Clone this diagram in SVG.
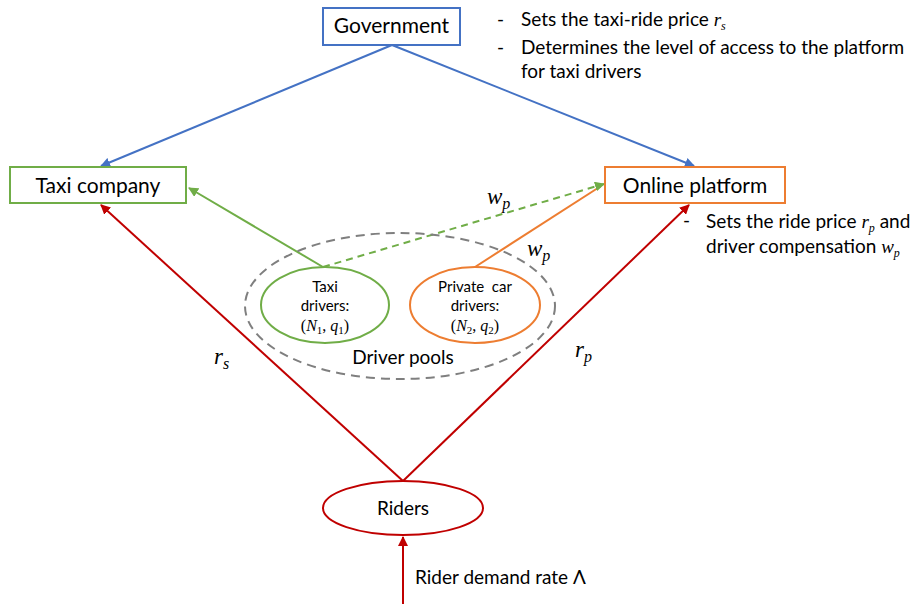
<svg xmlns="http://www.w3.org/2000/svg" width="917" height="604" viewBox="0 0 917 604">
<style>
.t{font-family:Lato,"Open Sans","Liberation Sans",sans-serif;fill:#000}
.m{font-family:"Liberation Serif","DejaVu Serif",serif;font-style:italic;fill:#000}
.box{fill:#fff;stroke-width:2}
.ln{fill:none;stroke-width:2}
</style>
<defs>
<marker id="aB" viewBox="0 0 10 10" refX="9" refY="5" markerWidth="5" markerHeight="5" orient="auto"><path d="M0,0L10,5L0,10z" fill="#4472C4"/></marker>
<marker id="aG" viewBox="0 0 10 10" refX="9" refY="5" markerWidth="5" markerHeight="5" orient="auto"><path d="M0,0L10,5L0,10z" fill="#70AD47"/></marker>
<marker id="aR" viewBox="0 0 10 10" refX="9" refY="5" markerWidth="5" markerHeight="5" orient="auto"><path d="M0,0L10,5L0,10z" fill="#C00000"/></marker>
</defs>
<rect width="917" height="604" fill="#fff"/>
<g id="connectors">
<line class="ln" x1="392" y1="45" x2="101" y2="166" stroke="#4472C4" marker-end="url(#aB)"/>
<line class="ln" x1="392" y1="45" x2="694" y2="166" stroke="#4472C4" marker-end="url(#aB)"/>
<line class="ln" x1="323" y1="267" x2="189" y2="188" stroke="#70AD47" marker-end="url(#aG)"/>
<line class="ln" x1="475" y1="267" x2="601" y2="186" stroke="#ED7D31"/>
<line class="ln" x1="323" y1="267" x2="604" y2="184" stroke="#70AD47" stroke-dasharray="7,5" marker-end="url(#aG)"/>
<line class="ln" x1="403" y1="481" x2="101" y2="205" stroke="#C00000" marker-end="url(#aR)"/>
<line class="ln" x1="403" y1="481" x2="689" y2="205" stroke="#C00000" marker-end="url(#aR)"/>
<line class="ln" x1="403" y1="604" x2="403" y2="537" stroke="#C00000" marker-end="url(#aR)"/>
<text class="m" x="487" y="204" font-size="23">w<tspan font-size="16" dy="5">p</tspan></text>
<text class="m" x="527" y="256" font-size="23">w<tspan font-size="16" dy="5">p</tspan></text>
<text class="m" x="214" y="364" font-size="23">r<tspan font-size="16" dy="5">s</tspan></text>
<text class="m" x="575" y="357" font-size="23">r<tspan font-size="16" dy="5">p</tspan></text>
<text class="t" x="415" y="584" font-size="19">Rider demand rate Λ</text>
</g>
<g id="driver-pools">
<ellipse cx="400" cy="306" rx="155" ry="73" fill="none" stroke="#7F7F7F" stroke-width="2" stroke-dasharray="9,6"/>
<text class="t" x="403" y="364" font-size="19" text-anchor="middle">Driver pools</text>
</g>
<g id="government">
<rect class="box" x="323" y="8" width="137" height="37" stroke="#4472C4"/>
<text class="t" x="391.5" y="33" font-size="21" text-anchor="middle">Government</text>
</g>
<g id="government-notes">
<text class="t" x="497" y="26" font-size="19">-</text>
<text class="t" x="521" y="26" font-size="19">Sets the taxi-ride price <tspan class="m" font-size="19">r</tspan><tspan class="m" font-size="12" dy="4">s</tspan></text>
<text class="t" x="497" y="54" font-size="19">-</text>
<text class="t" x="521" y="54" font-size="19">Determines the level of access to the platform</text>
<text class="t" x="521" y="78" font-size="19">for taxi drivers</text>
</g>
<g id="taxi-company">
<rect class="box" x="10" y="167" width="176" height="36" stroke="#70AD47"/>
<text class="t" x="98" y="193" font-size="21" text-anchor="middle">Taxi company</text>
</g>
<g id="online-platform">
<rect class="box" x="605" y="167" width="180" height="36" stroke="#ED7D31"/>
<text class="t" x="695" y="193" font-size="21" text-anchor="middle">Online platform</text>
</g>
<g id="platform-notes">
<text class="t" x="683" y="227" font-size="19">-</text>
<text class="t" x="706" y="228" font-size="19">Sets the ride price <tspan class="m" font-size="19">r</tspan><tspan class="m" font-size="12" dy="4">p</tspan><tspan dy="-4"> and</tspan></text>
<text class="t" x="706" y="253" font-size="19">driver compensation <tspan class="m" font-size="19">w</tspan><tspan class="m" font-size="12" dy="4">p</tspan></text>
</g>
<g id="taxi-drivers">
<ellipse cx="325" cy="305" rx="64" ry="38" fill="none" stroke="#70AD47" stroke-width="2"/>
<text class="t" x="325" y="292" font-size="15" text-anchor="middle">Taxi</text>
<text class="t" x="325" y="311" font-size="15" text-anchor="middle">drivers:</text>
<text class="m" x="325" y="331" font-size="16" text-anchor="middle"><tspan font-style="normal">(</tspan>N<tspan font-style="normal" font-size="11" dy="3">1</tspan><tspan font-style="normal" dy="-3">, </tspan>q<tspan font-style="normal" font-size="11" dy="3">1</tspan><tspan font-style="normal" dy="-3">)</tspan></text>
</g>
<g id="private-drivers">
<ellipse cx="475" cy="305" rx="65" ry="38" fill="none" stroke="#ED7D31" stroke-width="2"/>
<text class="t" x="475" y="292" font-size="15" text-anchor="middle" xml:space="preserve">Private  car</text>
<text class="t" x="475" y="311" font-size="15" text-anchor="middle">drivers:</text>
<text class="m" x="475" y="331" font-size="16" text-anchor="middle"><tspan font-style="normal">(</tspan>N<tspan font-style="normal" font-size="11" dy="3">2</tspan><tspan font-style="normal" dy="-3">, </tspan>q<tspan font-style="normal" font-size="11" dy="3">2</tspan><tspan font-style="normal" dy="-3">)</tspan></text>
</g>
<g id="riders">
<ellipse cx="403" cy="508" rx="80" ry="27" fill="#fff" stroke="#C00000" stroke-width="2"/>
<text class="t" x="403" y="515" font-size="19" text-anchor="middle">Riders</text>
</g>
</svg>
